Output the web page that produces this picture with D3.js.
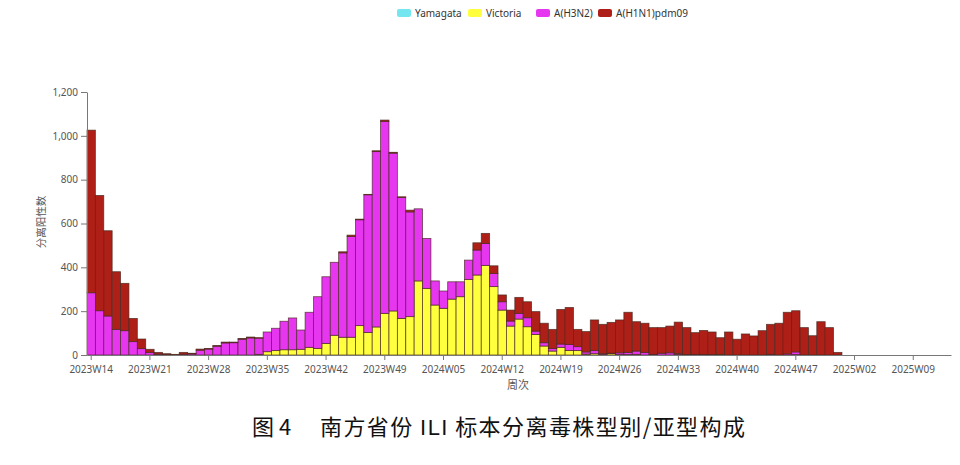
<!DOCTYPE html>
<html>
<head>
<meta charset="utf-8">
<script src="https://cdn.jsdelivr.net/npm/d3@7"></script>
<style>
	body { margin: 0; background: #fff; }
	svg text { font-family: "Noto Sans", "Noto Sans CJK SC", sans-serif; }
</style>
</head>
<body>
<svg id="chart" width="960" height="465"></svg>
<script>
'use strict';

// week categories (the source has one week fewer between 2023W49 and 2024W05)
let weeks = [];
for (let w = 14; w <= 51; w++) weeks.push('2023W' + String(w).padStart(2, '0'));
for (let w = 1; w <= 52; w++) weeks.push('2024W' + String(w).padStart(2, '0'));
for (let w = 1; w <= 13; w++) weeks.push('2025W' + String(w).padStart(2, '0'));

let tickLabels = ['2023W14','2023W21','2023W28','2023W35','2023W42','2023W49','2024W05',
	'2024W12','2024W19','2024W26','2024W33','2024W40','2024W47','2025W02','2025W09'];

let seriesNames = ['Yamagata', 'Victoria', 'A(H3N2)', 'A(H1N1)pdm09'];

let yamagata = [
	0,0,0,0,0,0,0,0,0,0, 0,0,0,0,0,0,0,0,0,0,
	0,0,0,0,0,0,0,0,0,0, 0,0,0,0,0,0,0,0,0,0,
	0,0,0,0,0,0,0,0,0,0, 0,0,0,0,0,0,0,0,0,0,
	0,0,0,0,0,0,0,0,0,0, 0,0,0,0,0,0,0,0,0,0,
	0,0,0,0,0,0,0,0,0,0, 0,0,0,0,0,0,0,0,0,0,
	0,0,0];

let victoria = [
	0,0,0,0,0,0,0,0,0,0,
	0,0,0,0,0,0,0,0,0,0,
	3,15,20,24,24,26,35,30,53,90,
	81,81,134,103,128,190,201,167,175,338,
	304,228,213,255,266,345,365,409,312,205,
	132,164,129,94,41,18,35,21,20,4,
	6,3,6,2,2,3,0,0,0,0,
	3,0,0,0,0,3,0,0,0,0,
	0,0,0,0,2,0,0,0,0,0,
	0,0,0,0,0,0,0,0,0,0,
	0,0,0];

let h3n2 = [
	284,202,178,117,111,61,29,12,4,2,
	0,4,5,22,27,40,55,56,72,78,
	74,90,102,130,145,88,160,236,304,333,
	385,460,483,628,800,876,720,552,478,329,
	228,110,79,79,68,88,114,100,60,38,
	23,26,41,15,15,12,15,27,18,10,
	14,3,2,8,10,15,12,3,8,10,
	3,2,3,3,2,0,0,0,0,0,
	0,3,0,5,12,0,0,0,0,0,
	0,0,0,0,0,0,0,0,0,0,
	0,0,0];

let h1n1 = [
	742,526,389,263,216,106,44,14,8,4,
	3,8,3,5,3,3,4,3,3,4,
	2,0,0,0,0,0,0,0,0,0,
	5,6,3,2,4,6,4,3,8,0,
	0,0,0,0,0,0,33,46,35,31,
	50,73,73,89,89,87,158,169,79,93,
	140,134,141,150,183,134,133,122,117,122,
	144,123,99,109,103,76,105,72,96,87,
	111,137,145,190,188,125,88,152,125,12,
	0,0,0,0,0,0,0,0,0,0,
	0,0,0];

let yTicks = [0, 200, 400, 600, 800, 1000, 1200];

let colors = ['#74e6f0', '#ffff3e', '#e636f0', '#ae1f17'];

let table = weeks.map(function(w, i){
	return {week: w, 'Yamagata': yamagata[i], 'Victoria': victoria[i], 'A(H3N2)': h3n2[i], 'A(H1N1)pdm09': h1n1[i]};
});

let svg = d3.select('#chart');

let margin = {left: 87, right: 9, top: 92, bottom: 110};
let width = 960 - margin.left - margin.right;
let height = 465 - margin.top - margin.bottom;

let x = d3.scaleBand()
	.domain(weeks)
	.range([0, width])
	.padding(0);
let y = d3.scaleLinear()
	.domain([0, 1200])
	.range([height, 0]);
let color = d3.scaleOrdinal().domain(seriesNames).range(colors);

let stacked = d3.stack().keys(seriesNames)(table);

let chartGroup = svg.append('g')
	.attr('transform', 'translate(' + margin.left + ',' + margin.top + ')');

chartGroup.selectAll('g.layer')
	.data(stacked)
	.enter().append('g')
	.attr('class', 'layer')
	.attr('fill', function(d){ return color(d.key); })
	.selectAll('rect')
	.data(function(d){ return d.filter(function(p){ return p[1] - p[0] > 0; }); })
	.enter().append('rect')
	.attr('x', function(d){ return x(d.data.week); })
	.attr('width', x.bandwidth())
	.attr('y', function(d){ return y(d[1]); })
	.attr('height', function(d){ return y(d[0]) - y(d[1]); })
	.attr('stroke', 'rgba(70,40,30,0.8)')
	.attr('stroke-width', 0.8);

let xAxis = d3.axisBottom(x).tickValues(tickLabels).tickSize(5).tickSizeOuter(0);
let yAxis = d3.axisLeft(y).tickValues(yTicks).tickFormat(d3.format(',')).tickSize(6).tickPadding(3).tickSizeOuter(0);

let gx = chartGroup.append('g')
	.attr('class', 'x axis')
	.attr('transform', 'translate(0,' + height + ')')
	.call(xAxis);
let gy = chartGroup.append('g')
	.attr('class', 'y axis')
	.call(yAxis);

[gx, gy].forEach(function(g){
	g.select('.domain').attr('stroke', '#777');
	g.selectAll('.tick line').attr('stroke', '#777');
	g.selectAll('.tick text').attr('fill', '#555').style('font-size', '10px');
});
gx.selectAll('.tick text').attr('dy', '1em');

// axis titles
svg.append('text')
	.attr('transform', 'translate(45,222) rotate(-90)')
	.attr('text-anchor', 'middle')
	.attr('fill', '#555')
	.style('font-size', '10.5px')
	.text('分离阳性数');

svg.append('text')
	.attr('x', 518)
	.attr('y', 389)
	.attr('text-anchor', 'middle')
	.attr('fill', '#555')
	.style('font-size', '11px')
	.text('周次');

// legend
let legendX = [397, 468, 536, 598];
let legend = svg.append('g').attr('class', 'legend');
seriesNames.forEach(function(name, i){
	legend.append('rect')
		.attr('x', legendX[i]).attr('y', 9)
		.attr('width', 14).attr('height', 8)
		.attr('rx', 2)
		.attr('fill', colors[i]);
	legend.append('text')
		.attr('x', legendX[i] + 18).attr('y', 16.5)
		.attr('fill', '#333')
		.style('font-size', '10px')
		.text(name);
});

// caption
let caption = svg.append('g')
	.attr('fill', '#111')
	.style('font-size', '22px');
caption.append('text')
	.attr('x', 252)
	.attr('y', 435)
	.style('font-family', '"Noto Sans CJK SC", sans-serif')
	.text('图 4');
let capText = caption.append('text')
	.attr('x', 320)
	.attr('y', 435)
	.attr('textLength', 425)
	.attr('lengthAdjust', 'spacing')
	.style('font-family', '"Noto Sans CJK SC", sans-serif')
	.style('white-space', 'pre');
capText.append('tspan').text('南方省份 ');
capText.append('tspan').style('font-family', '"Liberation Sans", Arial, sans-serif').text('ILI');
capText.append('tspan').text(' 标本分离毒株型别/亚型构成');
</script>
</body>
</html>
